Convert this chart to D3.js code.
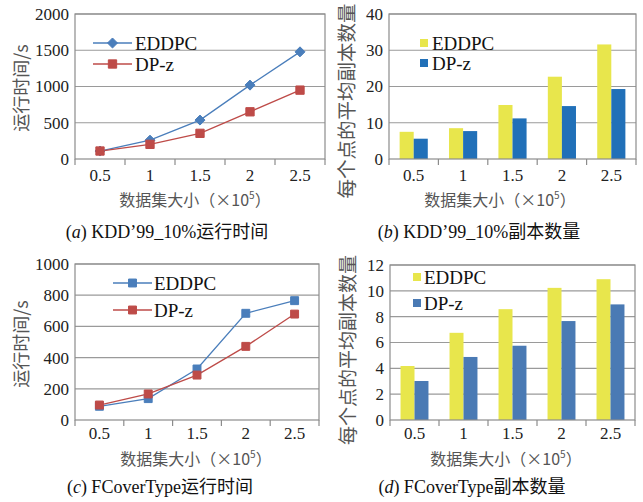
<!DOCTYPE html>
<html><head><meta charset="utf-8">
<script src="https://cdn.jsdelivr.net/npm/d3@7"></script>
<style>body{margin:0;background:#fff}svg{display:block}
.serif{font-family:"Liberation Serif","Times New Roman",serif}
.cjk{font-family:"Noto Sans CJK SC",sans-serif}
.cap{font-family:"Liberation Serif","Noto Sans CJK SC",serif}
</style>
</head><body>
<svg id="c" width="643" height="502"></svg>
<script>
const categories = ["0.5","1","1.5","2","2.5"];
const seriesNames = ["EDDPC","DP-z"];
// (a) KDD'99_10% running time
const aEDDPC = [110, 260, 537, 1019, 1478];
const aDPz   = [110, 202, 354, 651, 950];
const aTicks = [0, 500, 1000, 1500, 2000];
// (b) KDD'99_10% replica count
const bEDDPC = [7.5, 8.5, 14.9, 22.7, 31.6];
const bDPz   = [5.6, 7.7, 11.2, 14.6, 19.3];
const bTicks = [0, 10, 20, 30, 40];
// (c) FCoverType running time
const cEDDPC = [88, 137, 327, 684, 765];
const cDPz   = [96, 167, 288, 472, 679];
const cTicks = [0, 200, 400, 600, 800, 1000];
// (d) FCoverType replica count
const dEDDPC = [4.18, 6.75, 8.58, 10.23, 10.9];
const dDPz   = [3.02, 4.88, 5.75, 7.66, 8.95];
const dTicks = [0, 2, 4, 6, 8, 10, 12];

const yLabelTime = "运行时间/s";
const yLabelRep = "每个点的平均副本数量";
const captions = [["a"," KDD’99_10%运行时间"],["b"," KDD’99_10%副本数量"],["c"," FCoverType运行时间"],["d"," FCoverType副本数量"]];

const svg = d3.select("#c");

const panels = [
  {type:"line", x0:75, x1:325, y0:14, y1:159, ticks:aTicks, s:[aEDDPC,aDPz], colors:["#4a7ebb","#be4b48"], markers:["diamond","square"], msize:[64,88],
   ylab:yLabelTime, ylfs:18, ylx:22, yly:88, xtY:181, xtitle:[195,206], cap:[167,238], cap_i:0,
   leg:{lx0:93, lx1:132, tx:135, y:[43,64]}},
  {type:"bar", x0:389, x1:636, y0:14, y1:159, ticks:bTicks, s:[bEDDPC,bDPz], colors:["#e8e64c","#2170b8"],
   ylab:yLabelRep, ylfs:19.5, ylx:347, yly:101, xtY:181, xtitle:[500,206], cap:[479,238], cap_i:1,
   leg:{sx:420, tx:432, y:[43,63]}},
  {type:"line", x0:75, x1:319, y0:264, y1:420, ticks:cTicks, s:[cEDDPC,cDPz], colors:["#4a7ebb","#be4b48"], markers:["square","square"], msize:[80,80],
   ylab:yLabelTime, ylfs:18, ylx:22, yly:344, xtY:439, xtitle:[196,465], cap:[160,493], cap_i:2,
   leg:{lx0:113, lx1:152, tx:154, y:[283,310]}},
  {type:"bar", x0:390, x1:635, y0:265, y1:420, ticks:dTicks, s:[dEDDPC,dDPz], colors:["#e8e64c","#4a7ab4"],
   ylab:yLabelRep, ylfs:19, ylx:348, yly:350, xtY:439, xtitle:[506,465], cap:[472,493], cap_i:3,
   leg:{sx:413, tx:424, y:[277,303]}}
];

panels.forEach(p => {
  const g = svg.append("g");
  const maxV = p.ticks[p.ticks.length-1];
  const y = d3.scaleLinear().domain([0,maxV]).range([p.y1,p.y0]);
  const xb = d3.scaleBand().domain(categories).range([p.x0,p.x1]);
  g.selectAll(".grid").data(p.ticks.slice(1)).join("line")
    .attr("x1",p.x0).attr("x2",p.x1).attr("y1",d=>y(d)).attr("y2",d=>y(d))
    .attr("stroke","#9a9a9a").attr("stroke-width",1.2);
  g.selectAll(".yt").data(p.ticks).join("text").attr("class","serif")
    .attr("x",p.x0-6).attr("y",d=>y(d)).attr("dy","0.35em")
    .attr("text-anchor","end").attr("font-size",17).attr("fill","#222")
    .text(d=>d);
  if (p.type==="bar") {
    const xg = d3.scaleBand().domain(categories).range([p.x0,p.x1]).paddingInner(0.43).paddingOuter(0.215);
    const xs = d3.scaleBand().domain([0,1]).range([0,xg.bandwidth()]);
    p.s.forEach((vals,si) => {
      g.selectAll(".b"+si).data(vals).join("rect")
        .attr("x",(d,i)=>xg(categories[i])+xs(si)).attr("width",xs.bandwidth())
        .attr("y",d=>y(d)).attr("height",d=>p.y1-y(d)).attr("fill",p.colors[si]);
    });
  }
  g.append("rect").attr("x",p.x0).attr("y",p.y0).attr("width",p.x1-p.x0).attr("height",p.y1-p.y0)
    .attr("fill","none").attr("stroke","#8c8c8c").attr("stroke-width",1.2);
  const bounds = categories.map(c=>xb(c)).concat([p.x1]);
  g.selectAll(".xtm").data(bounds).join("line")
    .attr("x1",d=>d).attr("x2",d=>d).attr("y1",p.y1).attr("y2",p.y1+6)
    .attr("stroke","#8c8c8c").attr("stroke-width",1.2);
  g.selectAll(".xt").data(categories).join("text").attr("class","serif")
    .attr("x",d=>xb(d)+xb.bandwidth()/2).attr("y",p.xtY)
    .attr("text-anchor","middle").attr("font-size",17).attr("fill","#222")
    .text(d=>d);
  const symFor = si => d3.symbol().type(p.markers[si]==="diamond"?d3.symbolDiamond2:d3.symbolSquare2).size(p.msize[si]);
  if (p.type==="line") {
    const cx = i => xb(categories[i])+xb.bandwidth()/2;
    p.s.forEach((vals,si) => {
      const line = d3.line().x((d,i)=>cx(i)).y(d=>y(d));
      g.append("path").datum(vals).attr("d",line).attr("fill","none")
        .attr("stroke",p.colors[si]).attr("stroke-width",1.3);
    });
    p.s.forEach((vals,si) => {
      g.selectAll(".m"+si).data(vals).join("path")
        .attr("d",symFor(si)).attr("transform",(d,i)=>`translate(${cx(i)},${y(d)})`)
        .attr("fill",p.colors[si]).attr("stroke",p.colors[si]).attr("stroke-width",1);
    });
    seriesNames.forEach((n,si)=>{
      const ly = p.leg.y[si];
      g.append("line").attr("x1",p.leg.lx0).attr("x2",p.leg.lx1).attr("y1",ly).attr("y2",ly)
        .attr("stroke",p.colors[si]).attr("stroke-width",1.3);
      g.append("path").attr("d",symFor(si))
        .attr("transform",`translate(${(p.leg.lx0+p.leg.lx1)/2},${ly})`)
        .attr("fill",p.colors[si]).attr("stroke",p.colors[si]);
      g.append("text").attr("class","serif").attr("x",p.leg.tx).attr("y",ly).attr("dy","0.35em")
        .attr("font-size",19).attr("fill","#111").text(n);
    });
  } else {
    seriesNames.forEach((n,si)=>{
      const ly = p.leg.y[si];
      g.append("rect").attr("x",p.leg.sx).attr("y",ly-4).attr("width",8).attr("height",8).attr("fill",p.colors[si]);
      g.append("text").attr("class","serif").attr("x",p.leg.tx).attr("y",ly).attr("dy","0.35em")
        .attr("font-size",19).attr("fill","#111").text(n);
    });
  }
  g.append("text").attr("class","cjk").attr("transform",`translate(${p.ylx},${p.yly}) rotate(-90)`)
    .attr("text-anchor","middle").attr("dy","0.35em")
    .attr("font-size",p.ylfs).attr("fill","#555").text(p.ylab);
  const xt = g.append("text").attr("class","cjk").attr("x",p.xtitle[0]).attr("y",p.xtitle[1]).attr("text-anchor","middle")
    .attr("font-size",16).attr("fill","#555");
  xt.append("tspan").text("数据集大小（×10");
  xt.append("tspan").attr("font-size",10).attr("dy",-7).text("5");
  xt.append("tspan").attr("dy",7).text("）");
  const cp = g.append("text").attr("class","cap").attr("x",p.cap[0]).attr("y",p.cap[1]).attr("text-anchor","middle")
    .attr("font-size",18).attr("fill","#111");
  cp.append("tspan").text("(");
  cp.append("tspan").attr("font-style","italic").text(captions[p.cap_i][0]);
  cp.append("tspan").text(")"+captions[p.cap_i][1]);
});
</script>
</body></html>
